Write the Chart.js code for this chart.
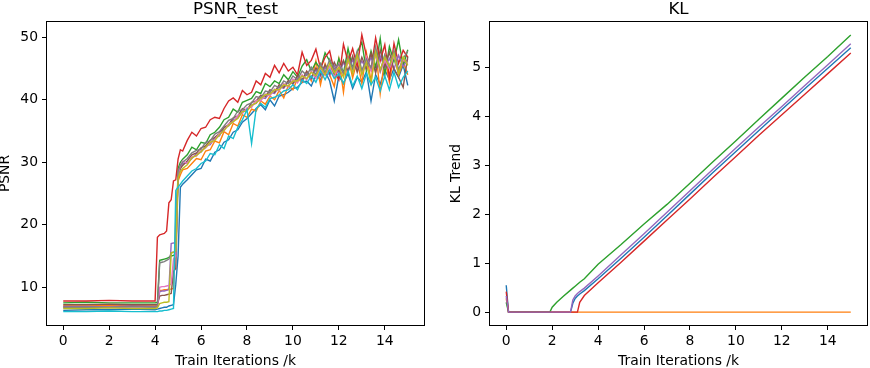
<!DOCTYPE html>
<html>
<head>
<meta charset="utf-8">
<script src="https://cdn.jsdelivr.net/npm/chart.js@4"></script>
<style>
    body { margin: 0; background: #ffffff; }
    .wrap { position: relative; width: 870px; height: 368px; overflow: hidden; }
    canvas { position: absolute; top: 0; }
    .ttl {
        position: absolute; top: 0; width: 300px; text-align: center;
        font-family: 'DejaVu Sans'; font-size: 16.7px; line-height: 16.7px; color: #000;
    }
</style>
</head>
<body>
<div class="wrap">
    <canvas id="psnrChart" width="435" height="368" style="left:0"></canvas>
    <canvas id="klChart" width="435" height="368" style="left:435px"></canvas>
    <div class="ttl" style="left:85.5px">PSNR_test</div>
    <div class="ttl" style="left:528.5px">KL</div>
</div>
<script>
// ─── data ──────────────────────────────────────────────────────────────────
const xTicks = [0, 2, 4, 6, 8, 10, 12, 14];
const psnrTicks = [10, 20, 30, 40, 50];
const klTicks = [0, 1, 2, 3, 4, 5];

// iterations (k) for the PSNR curves
const psnrIters = [0, 1, 2, 3, 4.0, 4.1, 4.2, 4.3, 4.4, 4.5, 4.6, 4.7, 4.8, 4.9, 5.0, 5.1, 5.2,
    5.4, 5.6, 5.8, 6.0, 6.2, 6.4, 6.6, 6.8, 7.0, 7.2, 7.4, 7.6, 7.8, 8.0, 8.2, 8.4, 8.6, 8.8,
    9.0, 9.2, 9.4, 9.6, 9.8, 10.0, 10.2, 10.4, 10.6, 10.8, 11.0, 11.2, 11.4, 11.6, 11.8,
    12.0, 12.2, 12.4, 12.6, 12.8, 13.0, 13.2, 13.4, 13.6, 13.8, 14.0, 14.2, 14.4, 14.6, 14.8, 15.0];

const psnrBlue = [6.3, 6.4, 6.4, 6.5, 6.4, 6.5, 6.6, 6.7, 6.8, 6.8, 7.0, 7.1, 7.2, 10.5, 15.0, 26.0, 26.5,
    27.2, 28.0, 28.8, 29.0, 30.5, 30.2, 31.6, 32.0, 33.2, 33.6, 34.8, 35.2, 36.4, 37.0, 37.8, 38.6, 39.2, 38.4,
    40.0, 39.0, 40.6, 40.8, 41.2, 41.8, 42.0, 42.8, 43.0, 42.2, 44.0, 43.2, 44.5, 43.0, 39.8,
    43.8, 42.6, 44.2, 41.8, 43.6, 42.8, 44.5, 39.8, 44.0, 42.5, 44.8, 43.2, 45.0, 43.6, 45.6, 42.3];
const psnrOrange = [7.0, 7.0, 7.1, 7.0, 7.0, 7.1, 9.5, 9.5, 9.6, 9.6, 9.7, 9.7, 9.8, 21.0, 27.0, 28.0, 28.8,
    29.0, 29.8, 30.6, 30.4, 31.8, 32.0, 33.4, 33.1, 34.9, 34.4, 36.2, 35.8, 37.6, 37.2, 38.5, 38.2, 39.8, 39.3,
    40.6, 40.0, 41.5, 40.3, 42.3, 41.6, 43.4, 42.8, 44.5, 43.0, 46.2, 42.4, 45.8, 44.0, 42.1,
    46.5, 41.2, 47.0, 43.5, 46.3, 42.6, 47.5, 43.0, 48.2, 41.0, 46.8, 42.8, 47.3, 43.9, 46.1, 44.0];
const psnrGreen = [7.5, 7.6, 7.5, 7.5, 7.5, 7.6, 14.3, 14.4, 14.5, 14.6, 14.8, 15.0, 15.1, 15.3, 29.0, 30.0, 30.5,
    31.2, 32.4, 32.0, 33.2, 33.0, 34.4, 34.8, 35.6, 36.8, 37.2, 38.5, 38.0, 39.6, 39.9, 40.2, 41.3, 41.0, 42.6,
    42.1, 43.0, 42.6, 44.0, 43.2, 44.5, 43.6, 45.4, 46.4, 44.6, 46.0, 44.9, 47.5, 46.2, 43.8,
    46.6, 44.2, 48.2, 45.0, 47.6, 49.2, 44.6, 47.8, 45.2, 49.8, 44.0, 48.5, 46.1, 49.6, 45.4, 48.0];
const psnrRed = [7.8, 7.8, 7.9, 7.8, 7.8, 18.0, 18.4, 18.5, 18.6, 19.0, 23.5, 24.0, 27.0, 27.2, 30.5, 32.0, 31.8,
    33.5, 34.8, 34.2, 35.4, 35.6, 36.8, 37.2, 37.0, 38.6, 39.8, 40.3, 39.6, 41.5, 40.8, 41.2, 43.0, 42.4, 44.2,
    43.6, 45.5, 44.3, 45.8, 44.6, 45.2, 44.0, 47.6, 45.5, 46.3, 48.1, 45.0, 46.8, 47.8, 44.5,
    43.2, 48.9, 46.0, 48.2, 45.3, 50.4, 47.0, 44.8, 49.9, 46.2, 48.8, 43.5, 49.0, 45.8, 47.9, 46.8];
const psnrPurple = [6.9, 6.9, 6.9, 7.0, 6.9, 7.0, 9.3, 9.4, 9.4, 9.5, 9.6, 17.0, 17.1, 17.0, 28.0, 29.0, 29.8,
    29.9, 30.6, 31.4, 31.6, 32.6, 32.8, 33.9, 34.2, 35.5, 35.8, 36.8, 37.1, 38.2, 38.4, 39.2, 39.4, 40.4, 40.2,
    41.2, 41.0, 42.1, 41.8, 42.9, 42.5, 43.6, 43.0, 44.2, 43.3, 44.8, 43.7, 45.2, 43.9, 45.5,
    44.0, 46.0, 44.4, 46.4, 44.6, 46.2, 44.9, 46.8, 44.5, 47.0, 45.1, 46.6, 44.9, 47.1, 45.3, 46.5];
const psnrBrown = [7.2, 7.2, 7.3, 7.2, 7.2, 7.3, 8.6, 8.7, 8.7, 8.8, 8.9, 9.0, 12.5, 13.0, 27.5, 29.0, 29.5,
    30.2, 31.2, 31.5, 32.3, 32.6, 33.5, 34.0, 34.6, 35.6, 36.0, 37.1, 37.4, 38.6, 38.3, 39.6, 39.8, 40.7, 40.5,
    41.6, 41.2, 42.4, 42.0, 43.1, 42.6, 43.9, 43.2, 44.6, 43.5, 45.1, 44.0, 45.6, 44.2, 46.0,
    44.5, 46.3, 44.6, 47.0, 44.4, 46.8, 45.0, 47.4, 44.3, 48.0, 45.2, 47.6, 44.8, 43.6, 42.0, 46.9];
const psnrPink = [6.7, 6.7, 6.8, 6.7, 6.7, 6.8, 10.0, 10.1, 10.1, 10.2, 10.3, 10.5, 14.5, 15.0, 28.0, 29.5, 30.2,
    29.8, 30.9, 31.0, 31.9, 32.3, 33.1, 33.6, 34.6, 35.0, 36.2, 36.4, 37.5, 37.8, 38.7, 38.8, 39.9, 39.8, 40.9,
    40.6, 41.7, 41.4, 42.6, 42.0, 43.3, 42.7, 44.0, 43.2, 44.6, 43.4, 45.0, 43.9, 45.3, 43.6,
    45.8, 44.1, 46.2, 44.5, 46.6, 44.2, 46.9, 44.7, 47.2, 44.4, 46.3, 45.0, 47.0, 44.6, 46.4, 45.8];
const psnrGray = [6.8, 6.8, 6.8, 6.9, 6.8, 6.9, 13.9, 14.0, 14.1, 14.3, 14.5, 15.5, 15.6, 15.8, 28.5, 29.5, 30.0,
    30.6, 31.5, 31.9, 32.1, 33.2, 33.4, 34.5, 34.9, 35.8, 36.7, 37.0, 38.2, 38.4, 39.2, 39.5, 40.5, 40.3, 41.4,
    41.2, 42.3, 41.9, 43.0, 42.6, 43.8, 43.2, 44.6, 43.9, 45.2, 44.0, 45.8, 44.3, 46.5, 44.9,
    45.7, 44.2, 46.9, 45.0, 47.8, 44.7, 46.5, 45.1, 48.4, 44.6, 47.2, 45.3, 47.9, 44.8, 46.6, 47.8];
const psnrOlive = [6.6, 6.6, 6.7, 6.6, 6.6, 6.7, 7.4, 7.5, 7.6, 7.6, 7.7, 15.5, 15.6, 15.8, 27.5, 28.5, 29.0,
    29.6, 30.7, 31.1, 31.7, 32.4, 33.2, 33.5, 34.4, 35.1, 35.9, 36.5, 37.0, 38.1, 38.2, 39.1, 39.5, 40.2, 40.8,
    40.9, 41.6, 41.6, 42.4, 42.2, 43.0, 43.0, 43.8, 43.4, 44.4, 43.8, 45.2, 44.0, 45.8, 44.3,
    45.2, 43.6, 46.5, 44.2, 47.2, 44.0, 46.0, 42.6, 47.6, 44.8, 46.8, 45.4, 47.4, 44.1, 46.9, 45.5];
const psnrCyan = [6.1, 6.1, 6.2, 6.1, 6.1, 6.1, 6.2, 6.2, 6.3, 6.3, 6.4, 6.5, 6.6, 25.5, 26.0, 26.5, 27.0,
    27.8, 28.6, 29.0, 29.8, 30.2, 31.4, 31.2, 32.8, 32.2, 34.2, 33.8, 35.6, 36.8, 38.4, 33.0, 38.6, 39.4, 38.8,
    40.2, 40.4, 40.8, 41.4, 41.6, 42.4, 41.6, 43.2, 42.6, 43.8, 42.8, 44.6, 43.2, 44.8, 43.4,
    44.2, 42.6, 44.6, 42.2, 43.8, 41.8, 44.2, 42.4, 43.6, 41.4, 43.8, 41.6, 44.4, 42.0, 43.6, 44.6];

// iterations (k) for the KL curves
const klIters = [0, 0.1, 1.0, 1.9, 2.0, 2.2, 2.5, 2.8, 2.9, 3.0, 3.1, 3.2, 3.4,
    4, 5, 6, 7, 8, 9, 10, 11, 12, 13, 14, 15];
const klBlue = [0.55, 0, 0, 0, 0, 0, 0, 0, 0.18, 0.28, 0.33, 0.37, 0.44,
    0.68, 1.10, 1.53, 1.97, 2.41, 2.85, 3.28, 3.71, 4.14, 4.56, 4.98, 5.40];
const klOrange = [0.28, 0, 0, 0, 0, 0, 0, 0, 0, 0, 0, 0, 0,
    0, 0, 0, 0, 0, 0, 0, 0, 0, 0, 0, 0];
const klGreen = [0.20, 0, 0, 0, 0.10, 0.20, 0.33, 0.45, 0.49, 0.53, 0.57, 0.61, 0.68,
    0.98, 1.38, 1.80, 2.20, 2.63, 3.07, 3.50, 3.94, 4.37, 4.80, 5.22, 5.66];
const klRed = [0.42, 0, 0, 0, 0, 0, 0, 0, 0, 0, 0, 0.20, 0.34,
    0.60, 1.02, 1.45, 1.88, 2.31, 2.75, 3.18, 3.61, 4.03, 4.45, 4.87, 5.29];
const klPurple = [0.33, 0, 0, 0, 0, 0, 0, 0, 0.25, 0.33, 0.38, 0.42, 0.49,
    0.74, 1.17, 1.60, 2.04, 2.48, 2.92, 3.35, 3.78, 4.20, 4.63, 5.05, 5.48];
// ───────────────────────────────────────────────────────────────────────────

const tab10 = ['#1f77b4', '#ff7f0e', '#2ca02c', '#d62728', '#9467bd',
    '#8c564b', '#e377c2', '#7f7f7f', '#bcbd22', '#17becf'];

Chart.defaults.font.family = 'DejaVu Sans';
Chart.defaults.font.size = 13.9;
Chart.defaults.color = '#000000';

// black frame around the plotting area, like matplotlib's spines
const frame = {
    id: 'frame',
    afterDatasetsDraw(chart) {
        const a = chart.chartArea;
        const ctx = chart.ctx;
        ctx.save();
        ctx.strokeStyle = '#000000';
        ctx.lineWidth = 1;
        ctx.strokeRect(Math.round(a.left) + 0.5, Math.round(a.top) + 0.5,
            Math.round(a.right - a.left) - 1, Math.round(a.bottom - a.top) - 1);
        ctx.restore();
    }
};

function toPoints(xs, ys) {
    return xs.map((x, i) => ({ x: x, y: ys[i] }));
}

function makeSeries(xs, list) {
    // later series on top, as in matplotlib
    return list.map((ys, i) => ({
        data: toPoints(xs, ys),
        borderColor: tab10[i],
        backgroundColor: tab10[i],
        borderWidth: 1.4,
        pointRadius: 0,
        tension: 0,
        order: list.length - i
    }));
}

function tickGrid() {
    return { display: true, drawOnChartArea: false, drawTicks: true, tickLength: 4, color: '#000000', lineWidth: 1 };
}

function buildOptions(cfg) {
    return {
        responsive: false,
        animation: false,
        devicePixelRatio: 1,
        layout: { padding: cfg.padding },
        plugins: { legend: { display: false }, tooltip: { enabled: false } },
        scales: {
            x: {
                type: 'linear',
                min: -0.75,
                max: 15.75,
                afterBuildTicks: s => { s.ticks = xTicks.map(v => ({ value: v })); },
                afterFit: s => { s.height = 42; },
                grid: tickGrid(),
                border: { display: false },
                ticks: { padding: 3, maxRotation: 0 },
                title: { display: true, text: 'Train Iterations /k', padding: { top: 0, bottom: 0 }, font: { lineHeight: 1 } }
            },
            y: {
                min: cfg.yMin,
                max: cfg.yMax,
                afterBuildTicks: s => { s.ticks = cfg.yTicks.map(v => ({ value: v })); },
                afterFit: s => { s.width = cfg.yWidth; },
                grid: tickGrid(),
                border: { display: false },
                ticks: { padding: 4 },
                title: { display: true, text: cfg.yTitle, padding: { top: -2, bottom: 0 }, font: { lineHeight: 1 } }
            }
        }
    };
}

new Chart(document.getElementById('psnrChart'), {
    type: 'line',
    data: {
        datasets: makeSeries(psnrIters, [psnrBlue, psnrOrange, psnrGreen, psnrRed, psnrPurple,
            psnrBrown, psnrPink, psnrGray, psnrOlive, psnrCyan])
    },
    options: buildOptions({
        padding: { left: 0, right: 10, top: 21, bottom: 0 },
        yMin: 3.8, yMax: 52.6, yTicks: psnrTicks, yWidth: 46, yTitle: 'PSNR'
    }),
    plugins: [frame]
});

new Chart(document.getElementById('klChart'), {
    type: 'line',
    data: {
        datasets: makeSeries(klIters, [klBlue, klOrange, klGreen, klRed, klPurple])
    },
    options: buildOptions({
        padding: { left: 16, right: 2, top: 21, bottom: 0 },
        yMin: -0.283, yMax: 5.945, yTicks: klTicks, yWidth: 38, yTitle: 'KL Trend'
    }),
    plugins: [frame]
});
</script>
</body>
</html>
